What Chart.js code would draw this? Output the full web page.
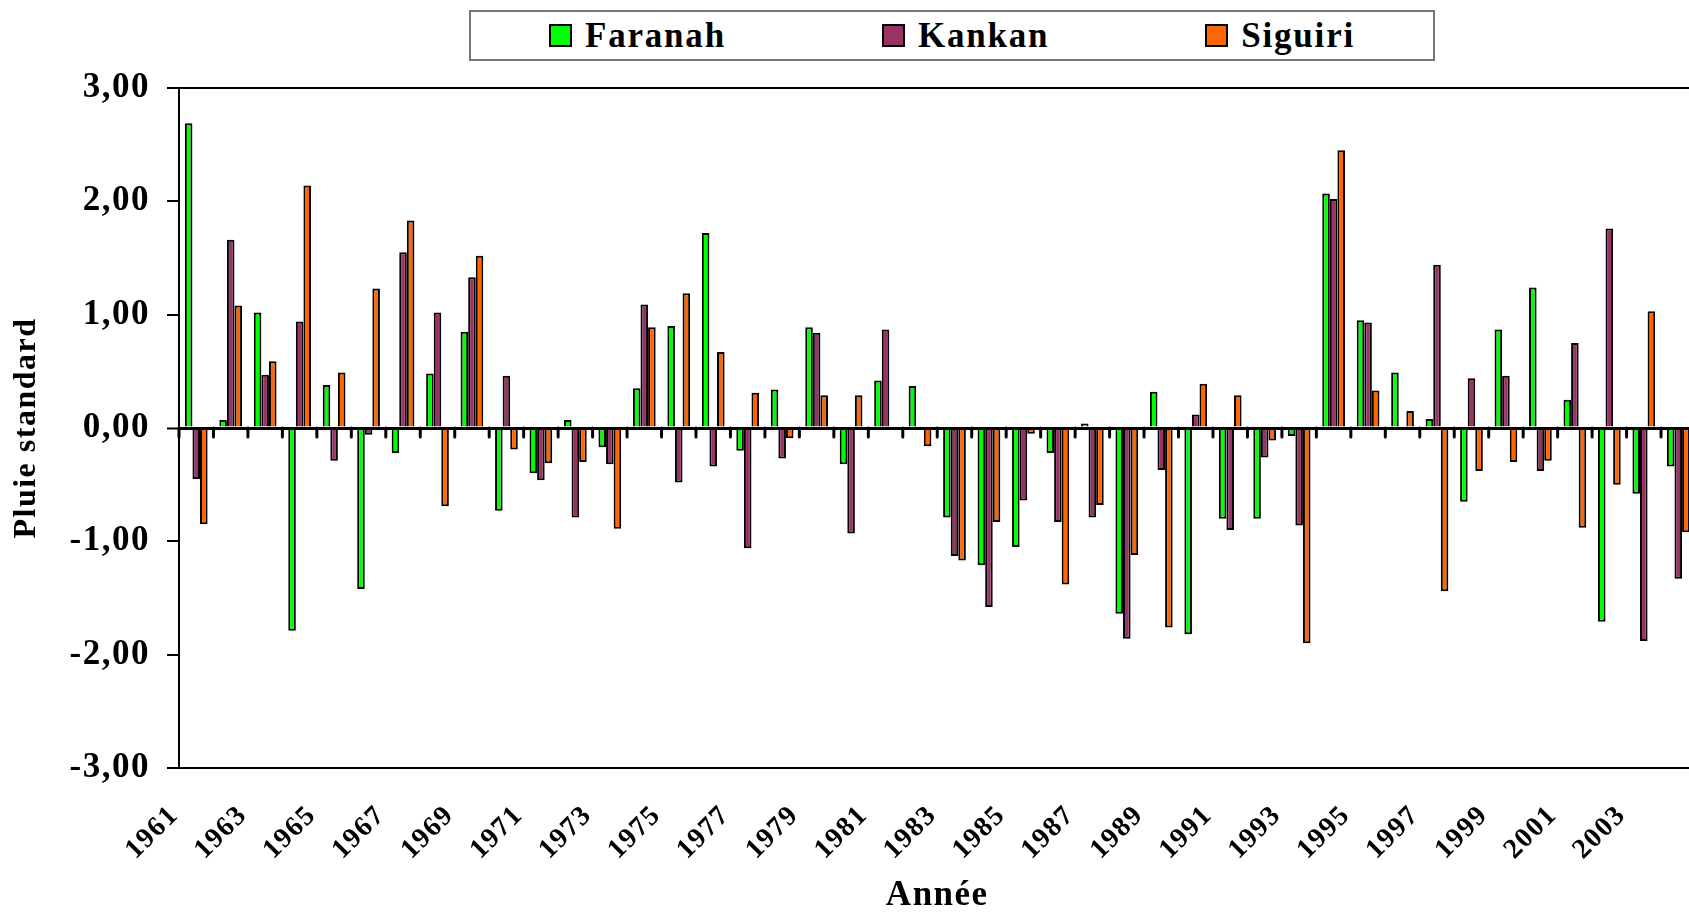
<!DOCTYPE html>
<html>
<head>
<meta charset="utf-8">
<title>Pluie standard</title>
<script src="https://cdn.jsdelivr.net/npm/chart.js@4.4.1/dist/chart.umd.min.js"></script>
<style>
  body { margin: 0; overflow: hidden; background: #fff; }
  #wrap { position: relative; width: 1700px; height: 913px; }
  #legend {
    position: absolute; left: 469px; top: 10px; width: 966px; height: 51px;
    box-sizing: border-box; border: 2px solid #777; background: #fff;
    display: flex; justify-content: space-around; align-items: center;
    font-family: 'Liberation Serif', 'Times New Roman', serif; font-weight: bold;
    font-size: 35px; letter-spacing: 1.8px; color: #000;
  }
  #legend .item { display: flex; align-items: center; }
  #legend .box { width: 23px; height: 23px; box-sizing: border-box; border: 2px solid #000; margin-right: 13px; }
</style>
</head>
<body>
<div id="wrap">
  <canvas id="myChart"></canvas>
  <div id="legend"></div>
</div>
<script>
// data starts here
const years = [1961, 1962, 1963, 1964, 1965, 1966, 1967, 1968, 1969, 1970,
               1971, 1972, 1973, 1974, 1975, 1976, 1977, 1978, 1979, 1980,
               1981, 1982, 1983, 1984, 1985, 1986, 1987, 1988, 1989, 1990,
               1991, 1992, 1993, 1994, 1995, 1996, 1997, 1998, 1999, 2000,
               2001, 2002, 2003, 2004];

const faranah = [2.69, 0.07, 1.02, -1.79, 0.38, -1.42, -0.22, 0.48, 0.85, -0.73,
                 -0.40, 0.07, -0.17, 0.35, 0.90, 1.72, -0.20, 0.34, 0.89, -0.32,
                 0.42, 0.37, -0.79, -1.21, -1.05, -0.22, 0.04, -1.64, 0.32, -1.82,
                 -0.80, -0.80, -0.07, 2.07, 0.95, 0.49, 0.08, -0.65, 0.87, 1.24,
                 0.25, -1.71, -0.58, -0.34];

const kankan = [-0.45, 1.66, 0.47, 0.94, -0.29, -0.06, 1.55, 1.02, 1.33, 0.46,
                -0.46, -0.79, -0.32, 1.09, -0.48, -0.34, -1.06, -0.27, 0.84, -0.93,
                0.87, 0.01, -1.13, -1.58, -0.64, -0.83, -0.79, -1.86, -0.37, 0.12,
                -0.90, -0.26, -0.86, 2.02, 0.93, 0.01, 1.44, 0.44, 0.46, -0.38,
                0.75, 1.76, -1.88, -1.33];

const siguiri = [-0.85, 1.08, 0.59, 2.14, 0.49, 1.23, 1.83, -0.69, 1.52, -0.19,
                 -0.31, -0.30, -0.89, 0.89, 1.19, 0.67, 0.31, -0.09, 0.29, 0.29,
                 0.01, -0.16, -1.17, -0.83, -0.05, -1.38, -0.68, -1.12, -1.76, 0.39,
                 0.29, -0.11, -1.90, 2.45, 0.33, 0.15, -1.44, -0.38, -0.30, -0.29,
                 -0.88, -0.50, 1.03, -0.92];

const yTickValues = [-3, -2, -1, 0, 1, 2, 3];
// data ends here

Chart.defaults.font.family = "'Liberation Serif', 'Times New Roman', serif";
Chart.defaults.font.weight = 'bold';
Chart.defaults.color = '#000';

// the excel text is a bit wider, so add a little spacing to canvas text
const spacing = {
  id: 'spacing',
  beforeLayout(chart) { chart.ctx.letterSpacing = '1.5px'; },
  beforeDraw(chart) { chart.ctx.letterSpacing = '1.5px'; }
};

// little ticks on the zero line, between the years
const zeroTicks = {
  id: 'zeroTicks',
  afterDatasetsDraw(chart) {
    const ctx = chart.ctx;
    const x = chart.scales.x;
    const y = chart.scales.y;
    const y0 = y.getPixelForValue(0);
    const step = x.getPixelForValue(1) - x.getPixelForValue(0);
    ctx.save();
    ctx.strokeStyle = '#000';
    ctx.lineWidth = 3;
    ctx.lineCap = 'round';
    for (let i = 0; i <= years.length; i++) {
      const px = x.getPixelForValue(0) - step / 2 + i * step;
      ctx.beginPath();
      ctx.moveTo(px, y0);
      ctx.lineTo(px, y0 + 9);
      ctx.stroke();
    }
    ctx.restore();
  }
};

// bar chart starts here
const ctx = document.getElementById('myChart').getContext('2d');
const chart = new Chart(ctx, {
  type: 'bar',
  data: {
    labels: years,
    datasets: [
      { label: 'Faranah', data: faranah, backgroundColor: '#00FF00' },
      { label: 'Kankan', data: kankan, backgroundColor: '#993366' },
      { label: 'Siguiri', data: siguiri, backgroundColor: '#FF6600' }
    ]
  },
  options: {
    responsive: true,
    maintainAspectRatio: false,
    animation: false,
    layout: { padding: { left: 0, right: 4.5, top: 88, bottom: 0 } },
    datasets: {
      bar: {
        borderColor: '#000',
        borderWidth: 2,
        categoryPercentage: 0.66,
        barPercentage: 1.0
      }
    },
    plugins: {
      legend: { display: false },
      tooltip: { enabled: false }
    },
    scales: {
      x: {
        grid: { display: false, drawTicks: false },
        border: { display: true, color: '#000', width: 2 },
        ticks: {
          autoSkip: false,
          minRotation: 45,
          maxRotation: 45,
          padding: 31,
          labelOffset: -22,
          font: { size: 28 },
          callback: (v, i) => (i % 2 === 0 ? years[i] : '')
        },
        title: {
          display: true,
          text: 'Année',
          font: { size: 35, lineHeight: 1 },
          padding: 0
        },
        afterFit: s => {
          s.height = 145;
          s.paddingLeft = 0;
          s.paddingRight = 0;
        }
      },
      y: {
        min: -3,
        max: 3,
        afterBuildTicks: s => { s.ticks = yTickValues.map(v => ({ value: v })); },
        grid: {
          z: 1,
          color: c => (c.tick && (c.tick.value === 0 || c.tick.value === 3) ? '#000' : 'rgba(0,0,0,0)'),
          lineWidth: c => (c.tick && c.tick.value === 0 ? 3 : 2),
          drawTicks: true,
          tickLength: 12,
          tickColor: '#000',
          tickWidth: 2
        },
        border: { display: true, color: '#000', width: 2, z: 1 },
        ticks: {
          padding: 17,
          font: { size: 35 },
          callback: v => v.toFixed(2).replace('.', ',')
        },
        title: {
          display: true,
          text: 'Pluie standard',
          font: { size: 32 },
          padding: { top: 8, bottom: 0 }
        },
        afterFit: s => { s.width = 179; }
      }
    }
  },
  plugins: [spacing, zeroTicks]
});
// bar chart ends here

// legend box
const legend = document.getElementById('legend');
chart.data.datasets.forEach(ds => {
  const item = document.createElement('div');
  item.className = 'item';
  const box = document.createElement('span');
  box.className = 'box';
  box.style.background = ds.backgroundColor;
  const txt = document.createElement('span');
  txt.textContent = ds.label;
  item.appendChild(box);
  item.appendChild(txt);
  legend.appendChild(item);
});
</script>
</body>
</html>
